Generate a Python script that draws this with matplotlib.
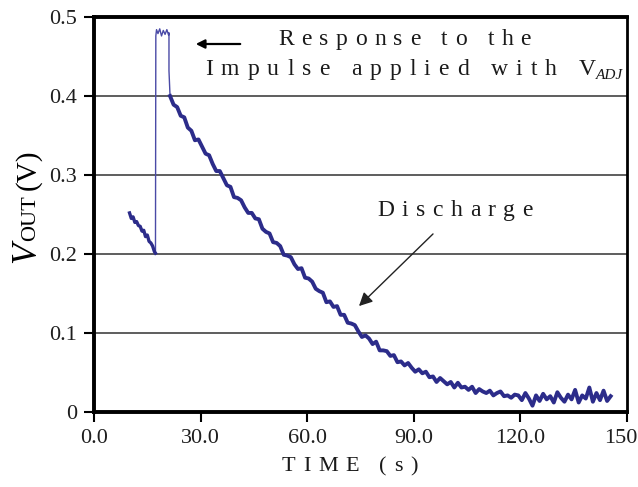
import matplotlib
matplotlib.use("Agg")
import matplotlib.pyplot as plt
import matplotlib.transforms as mtrans
import numpy as np

W, H = 638, 487
SERIF = ["Liberation Serif", "DejaVu Serif"]

# before the impulse
t_pre = [10.0, 10.5, 11.0, 11.5, 12.0, 12.5, 13.0, 13.5, 14.0, 14.5, 15.0,
         15.5, 16.0, 16.5, 17.0, 17.3]
v_pre = [0.252, 0.245, 0.247, 0.240, 0.241, 0.236, 0.235, 0.229, 0.230, 0.222,
         0.224, 0.216, 0.214, 0.210, 0.203, 0.201]

# impulse response
t_peak = [17.3, 17.4, 17.6, 18.0, 18.5, 19.0, 19.5, 20.0, 20.5, 21.0, 21.1, 21.1, 21.4]
v_peak = [0.201, 0.476, 0.484, 0.479, 0.485, 0.476, 0.483, 0.478, 0.484, 0.477, 0.480, 0.432, 0.400]

# discharge, one reading per second
t_dis = np.arange(21.4, 146.0, 1.0)
v_dis = [0.400, 0.389, 0.386, 0.375, 0.373, 0.360, 0.356, 0.344, 0.345, 0.336,
         0.327, 0.325, 0.314, 0.305, 0.305, 0.296, 0.287, 0.285, 0.272, 0.271,
         0.268, 0.259, 0.252, 0.252, 0.245, 0.244, 0.232, 0.228, 0.226, 0.215,
         0.214, 0.210, 0.199, 0.198, 0.196, 0.187, 0.181, 0.182, 0.170, 0.169,
         0.165, 0.156, 0.153, 0.151, 0.139, 0.140, 0.133, 0.134, 0.123, 0.123,
         0.113, 0.112, 0.110, 0.102, 0.095, 0.097, 0.093, 0.086, 0.089, 0.078,
         0.078, 0.077, 0.071, 0.072, 0.063, 0.064, 0.059, 0.062, 0.056, 0.051,
         0.054, 0.049, 0.051, 0.044, 0.045, 0.038, 0.043, 0.039, 0.035, 0.038,
         0.031, 0.037, 0.031, 0.032, 0.028, 0.032, 0.024, 0.029, 0.026, 0.024,
         0.027, 0.021, 0.024, 0.026, 0.020, 0.021, 0.018, 0.022, 0.021,
         0.015, 0.024, 0.017, 0.008, 0.021, 0.014, 0.023, 0.016, 0.020, 0.012,
         0.025, 0.018, 0.013, 0.022, 0.016, 0.028, 0.012, 0.021, 0.017, 0.031,
         0.013, 0.024, 0.015, 0.027, 0.014, 0.020]

xticks = [0, 30, 60, 90, 120, 150]
xtick_labels = ["0.0", "30.0", "60.0", "90.0", "120.0", "150"]
yticks = [0, 0.1, 0.2, 0.3, 0.4, 0.5]
ytick_labels = ["0", "0.1", "0.2", "0.3", "0.4", "0.5"]

line_col = "#2c2c8a"

fig = plt.figure(figsize=(W / 100, H / 100), dpi=100)
ax = fig.add_axes([94 / W, 1 - 412 / H, (627 - 94) / W, (412 - 17) / H])

ax.plot(t_peak, v_peak, color="#4a4aa6", lw=1.0)
ax.plot(t_pre, v_pre, color=line_col, lw=2.4)
ax.plot(t_dis, v_dis, color=line_col, lw=2.8)

ax.set_xlim(0, 150)
ax.set_ylim(0, 0.5)
ax.set_xticks(xticks)
ax.set_xticklabels(xtick_labels)
ax.set_yticks(yticks)
ax.set_yticklabels(ytick_labels)
ax.tick_params(direction="out", length=7, width=1.5, labelsize=16, pad=5)
for lab in ax.get_xticklabels() + ax.get_yticklabels():
    lab.set_family(SERIF)
    lab.set_color("#1e1e1e")
# last x label sits partly past the figure edge in the original
last = ax.get_xticklabels()[-1]
last.set_transform(last.get_transform() + mtrans.ScaledTranslation(-6 / 100, 0, fig.dpi_scale_trans))

for y in yticks[1:-1]:
    ax.axhline(y, color="#505050", lw=1.3, zorder=0)
for side in ["left", "bottom", "top"]:
    ax.spines[side].set_linewidth(2.8)
ax.spines["right"].set_linewidth(2.0)

renderer = fig.canvas.get_renderer()


def spaced(x, y, s, size, track, **kw):
    # letter-spaced text, x/y in pixels from top-left, y is the baseline
    for ch in s:
        if ch == " ":
            x += size * 100 / 72 * 0.25 + track
            continue
        t = fig.text(x / W, 1 - y / H, ch, fontsize=size, family=SERIF,
                     ha="left", va="baseline", color="#1a1a1a", **kw)
        x += t.get_window_extent(renderer).width + track
    return x


spaced(278, 45, "Response to the", 17, 7.4)
xe = spaced(205, 75, "Impulse applied with V", 17, 8.0)
fig.text((xe - 8) / W, 1 - 79 / H, "ADJ", fontsize=11, family=SERIF,
         style="italic", ha="left", va="baseline", color="#1a1a1a")
spaced(377, 216, "Discharge", 17, 7.5)
spaced(282, 471, "TIME (s)", 16, 7.5)

ax.annotate("", xy=(193, H - 44), xytext=(243, H - 44),
            xycoords="figure pixels", textcoords="figure pixels",
            arrowprops=dict(arrowstyle="-|>", color="k", lw=1.6, mutation_scale=13))
ax.annotate("", xy=(357, H - 308), xytext=(435, H - 232),
            xycoords="figure pixels", textcoords="figure pixels",
            arrowprops=dict(arrowstyle="-|>", color="#222222", lw=1.0, mutation_scale=20))

# y label: italic V, small OUT, then (V)
yb = 263
t1 = fig.text(35 / W, 1 - yb / H, "V", fontsize=25, family=SERIF, style="italic",
              rotation=90, rotation_mode="anchor", ha="left", va="baseline")
yb -= t1.get_window_extent(renderer).height + 1
t2 = fig.text(35 / W, 1 - yb / H, "OUT", fontsize=16, family=SERIF,
              rotation=90, rotation_mode="anchor", ha="left", va="baseline")
yb -= t2.get_window_extent(renderer).height + 5
fig.text(35 / W, 1 - yb / H, "(V)", fontsize=21, family=SERIF,
         rotation=90, rotation_mode="anchor", ha="left", va="baseline")

fig.savefig("out.png", dpi=100)
